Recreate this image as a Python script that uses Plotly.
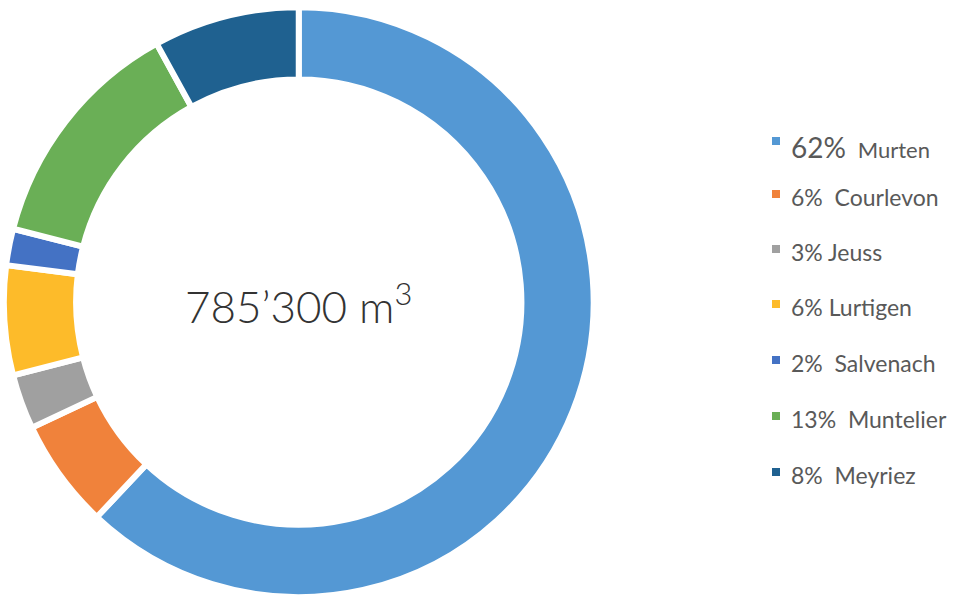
import plotly.graph_objects as go

labels = ["Murten", "Courlevon", "Jeuss", "Lurtigen", "Salvenach", "Muntelier", "Meyriez"]
percents = [62, 6, 3, 6, 2, 13, 8]
colors = ["#5498D4", "#F0823B", "#A0A0A0", "#FDBB2A", "#4472C4", "#6AAF56", "#1F6190"]
separators = ["\u00a0\u00a0", "\u00a0\u00a0", " ", " ", "\u00a0\u00a0", "\u00a0\u00a0", "\u00a0\u00a0"]
center_value = "785\u2019300"
center_unit = "m<sup>3</sup>"

W, H = 956, 597

fig = go.Figure()
fig.add_trace(go.Pie(
    labels=labels,
    values=percents,
    hole=0.755,
    sort=False,
    direction="clockwise",
    rotation=0,
    marker=dict(colors=colors, line=dict(color="white", width=6)),
    textinfo="none",
    showlegend=False,
    domain=dict(x=[0.0, 0.625], y=[0.0, 0.988]),
))

fig.add_annotation(
    x=298 / W, y=1 - 303 / H, xref="paper", yref="paper",
    text=center_value + " " + center_unit,
    showarrow=False,
    font=dict(family="Lato", size=44, color="#333333", weight=300),
    xanchor="center", yanchor="middle",
)

legend_y = [147, 197, 252, 307, 363, 419, 475]
for i, (lab, p, c, sep) in enumerate(zip(labels, percents, colors, separators)):
    yc = legend_y[i]
    pct = f"{p}%"
    if i == 0:
        txt = f"<span style='font-size:28px'>{pct}</span>{sep}<span style='font-size:22px'>{lab}</span>"
        sq_y = yc - 6
    else:
        txt = f"{pct}{sep}{lab}"
        sq_y = yc - 3
    fig.add_shape(
        type="rect", xref="paper", yref="paper",
        x0=772 / W, x1=780 / W, y0=1 - (sq_y + 4) / H, y1=1 - (sq_y - 4) / H,
        fillcolor=c, line=dict(width=0),
    )
    fig.add_annotation(
        x=789 / W, y=1 - yc / H, xref="paper", yref="paper",
        text=txt, showarrow=False,
        font=dict(family="Lato", size=23, color="#595959"),
        xanchor="left", yanchor="middle",
    )

fig.update_layout(
    width=W, height=H,
    margin=dict(l=0, r=0, t=0, b=0),
    paper_bgcolor="white", plot_bgcolor="white",
)

fig.write_html("out.html")
